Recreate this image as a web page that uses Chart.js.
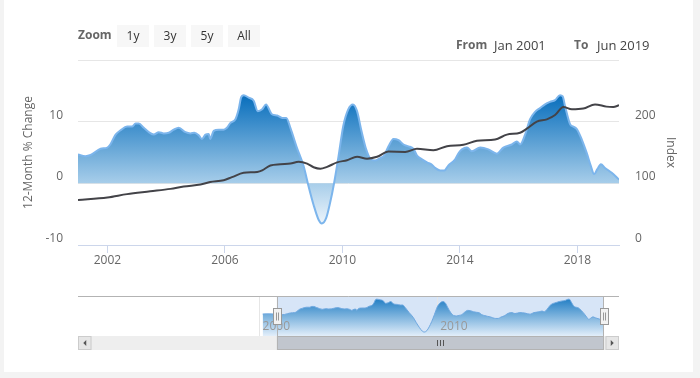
<!DOCTYPE html>
<html><head><meta charset="utf-8">
<script src="https://cdn.jsdelivr.net/npm/chart.js@4.4.1/dist/chart.umd.min.js"></script>
<style>
html,body{margin:0;padding:0;}
body{width:700px;height:378px;background:#f3f3f3;position:relative;overflow:hidden;font-family:"Open Sans",sans-serif;}
#panel{position:absolute;left:4px;top:0;width:689px;height:372px;background:#fff;}
canvas{position:absolute;left:0;}
.t{position:absolute;font-size:12px;line-height:14px;white-space:nowrap;}
.d{font-size:13px;}
.b{position:absolute;top:25px;height:22px;width:32px;background:#f7f7f7;color:#333;font-size:12px;line-height:21px;text-align:center;}
</style></head><body>
<div id="panel"></div>
<canvas id="main" width="700" height="290" style="top:0;width:700px;height:290px"></canvas>
<canvas id="nav" width="700" height="88" style="top:290px;width:700px;height:88px"></canvas>
<div class="t" style="left:78px;top:28px;font-weight:bold;color:#666">Zoom</div>
<div id="btns"></div>
<div class="t" style="left:456px;top:38px;font-weight:bold;color:#666">From</div>
<div class="t d" style="left:494px;top:37.5px;color:#444">Jan 2001</div>
<div class="t" style="left:574px;top:38px;font-weight:bold;color:#666">To</div>
<div class="t d" style="left:597px;top:37.5px;color:#444">Jun 2019</div>
<script>
// ---- data ----
const zoomButtons = ['1y','3y','5y','All'];
const tickYears = [2002, 2006, 2010, 2014, 2018];
const navTickYears = [2000, 2010];
const rangeStart = 2001;          // Jan 2001
const rangeEnd = 2019 + 5/12;     // Jun 2019

const pctDates = [2001.0,2001.25,2001.43,2001.77,2002.0,2002.1,2002.28,2002.45,2002.67,2002.84,2002.96,
  2003.07,2003.24,2003.41,2003.58,2003.75,2003.92,2004.09,2004.26,2004.43,2004.66,2004.83,2004.96,
  2005.11,2005.22,2005.34,2005.45,2005.5,2005.62,2005.79,2005.96,2006.07,2006.19,2006.36,2006.47,
  2006.55,2006.64,2006.81,2006.98,2007.12,2007.27,2007.40,2007.6,2007.78,2007.95,2008.09,2008.23,
  2008.45,2008.68,2008.85,2009.02,2009.19,2009.3,2009.45,2009.58,2009.72,2009.87,2010.03,2010.2,
  2010.36,2010.5,2010.64,2010.81,2010.95,2011.12,2011.29,2011.42,2011.57,2011.74,2011.91,2012.08,
  2012.25,2012.42,2012.54,2012.71,2012.88,2013.05,2013.16,2013.33,2013.47,2013.61,2013.84,2013.97,
  2014.07,2014.24,2014.41,2014.69,2014.97,2015.26,2015.48,2015.77,2015.94,2016.05,2016.22,2016.39,
  2016.56,2016.73,2016.9,2017.07,2017.24,2017.41,2017.5,2017.58,2017.75,2017.86,2017.98,2018.15,
  2018.32,2018.46,2018.57,2018.68,2018.8,2018.94,2019.17,2019.417];
const pctValues = [4.7,4.4,4.6,5.6,5.8,6.3,7.9,8.6,9.2,9.2,9.7,
  9.7,9.0,8.3,7.9,8.3,8.1,8.2,8.7,9.0,8.3,8.1,8.2,
  7.8,7.2,7.9,8.0,7.2,8.5,8.7,8.7,9.0,9.8,10.4,12.0,
  13.9,14.3,13.9,13.4,11.7,12.0,12.8,11.2,11.0,10.6,10.6,9.0,
  5.8,2.8,-0.5,-3.5,-5.9,-6.5,-5.6,-3.2,0.1,4.4,9.3,12.0,
  12.8,11.7,8.7,5.5,4.0,3.7,4.1,4.5,6.0,7.2,7.0,6.3,
  6.0,5.6,4.5,3.9,3.4,3.0,2.5,2.1,2.1,2.9,3.9,5.0,
  5.5,5.8,5.2,5.8,5.5,4.8,5.8,6.3,6.8,6.3,7.9,10.4,
  11.6,12.2,12.8,13.2,13.5,14.3,14.1,12.5,9.6,9.2,8.8,7.1,
  4.9,2.8,1.5,2.3,3.1,2.5,1.7,0.6];

const idxDates = [2001.0,2002.0,2002.67,2003.46,2004.15,2004.6,2005.17,2005.5,2005.96,2006.24,2006.64,
  2007.1,2007.27,2007.55,2007.89,2008.23,2008.51,2008.8,2009.02,2009.25,2009.48,2009.82,2010.16,
  2010.5,2010.84,2011.18,2011.57,2012.14,2012.54,2013.1,2013.56,2014.12,2014.58,2015.2,2015.6,
  2016.05,2016.28,2016.62,2016.96,2017.24,2017.52,2017.81,2018.2,2018.6,2018.99,2019.22,2019.417];
const idxValues = [73,77,82.5,87,91,95,98,102,105,110,117,
  118.5,121,129,131,132,135,132,126,123.5,126.7,134,137.5,
  143,140,143,151.5,151,156,153.7,160.3,162.5,169,171,179,
  182,188.6,200,203.7,210.7,223.8,220,221.2,228,224.4,223.8,226.5];

// navigator shows a little extra history before the selected range
const navPreDates = [2000.2, 2000.5, 2000.8];
const navPreValues = [4.9, 5.0, 4.9];

// ---- page bits ----
const btnLeft = [117,154,191,228];
zoomButtons.forEach((t,i)=>{
  const d = document.createElement('div'); d.className='b'; d.style.left = btnLeft[i]+'px'; d.textContent = t;
  document.getElementById('btns').appendChild(d);
});

const FAM = '"Open Sans", sans-serif';
const pts = (xs, ys) => xs.map((x,i)=>({x:x, y:ys[i]}));

function areaGradient(ctx){
  const ch = ctx.chart, a = ch.chartArea;
  if (!a) return 'rgba(124,181,236,0.6)';
  const ys = ch.scales.y;
  const top = ys.getPixelForValue(Math.max(...pctValues));
  const bot = ys.getPixelForValue(Math.min(...pctValues));
  const g = ch.ctx.createLinearGradient(0, top, 0, bot);
  g.addColorStop(0, 'rgb(8,110,188)');
  g.addColorStop(0.69, 'rgb(168,206,234)');
  g.addColorStop(1, 'rgb(236,244,251)');
  return g;
}

new Chart(document.getElementById('main'), {
  type: 'line',
  data: { datasets: [
    { label:'Index', data: pts(idxDates, idxValues), yAxisID:'y1', borderColor:'#434348', borderWidth:2,
      pointRadius:0, fill:false, cubicInterpolationMode:'monotone' },
    { label:'12-Month % Change', data: pts(pctDates, pctValues), yAxisID:'y', borderColor:'#7cb5ec', borderWidth:2,
      pointRadius:0, fill:'origin', backgroundColor: areaGradient, cubicInterpolationMode:'monotone' }
  ]},
  options: {
    responsive:false, animation:false, devicePixelRatio:1, events:[],
    layout:{ padding:{ top:60, left:0, right:0, bottom:0 } },
    plugins:{ legend:{display:false}, tooltip:{enabled:false} },
    scales: {
      x: { type:'linear', position:'bottom', min:rangeStart, max:rangeEnd,
        afterBuildTicks: s => { s.ticks = tickYears.map(v=>({value:v})); },
        afterFit: s => { s.height = 45; },
        ticks:{ color:'#666', font:{family:FAM,size:12}, padding:0, maxRotation:0, autoSkip:false, callback: v => String(v) },
        grid:{ drawOnChartArea:false, drawTicks:true, tickLength:8, color:'#ccd6eb' },
        border:{ color:'#ccd6eb', width:1 } },
      y: { position:'left', min:-10, max:20,
        afterBuildTicks: s => { s.ticks = [-10,0,10,20].map(v=>({value:v})); },
        afterFit: s => { s.width = 78; },
        ticks:{ color:'#666', font:{family:FAM,size:12}, padding:15, labelOffset:-6.5,
          callback: v => v === 20 ? '' : String(v) },
        grid:{ drawTicks:false, color: c => (c.tick && c.tick.value === -10) ? 'rgba(0,0,0,0)' : '#e6e6e6' },
        border:{ display:false },
        title:{ display:true, text:'12-Month % Change', color:'#666', font:{family:FAM,size:12}, padding:{top:21,bottom:0} } },
      y1: { position:'right', min:0, max:300,
        afterBuildTicks: s => { s.ticks = [0,100,200,300].map(v=>({value:v})); },
        afterFit: s => { s.width = 81; },
        ticks:{ color:'#666', font:{family:FAM,size:12}, padding:16, labelOffset:-6.5,
          callback: v => v === 300 ? '' : String(v) },
        grid:{ drawOnChartArea:false, drawTicks:false },
        border:{ display:false },
        title:{ display:true, text:'Index', color:'#666', font:{family:FAM,size:12}, padding:{top:22,bottom:0} } }
    }
  }
});

// ---- navigator ----
function navGradient(ctx){
  const ch = ctx.chart, a = ch.chartArea;
  if (!a) return 'rgba(124,181,236,0.6)';
  const g = ch.ctx.createLinearGradient(0, a.top, 0, a.bottom);
  g.addColorStop(0, 'rgb(20,118,192)');
  g.addColorStop(1, 'rgb(226,238,250)');
  return g;
}

const navDecor = {
  id:'navDecor',
  beforeDatasetsDraw(ch){
    const c = ch.ctx, a = ch.chartArea, xs = ch.scales.x;
    c.save();
    const m0 = xs.getPixelForValue(rangeStart), m1 = xs.getPixelForValue(rangeEnd);
    c.fillStyle = 'rgba(124,170,230,0.3)';
    c.fillRect(m0, a.top, m1-m0, a.bottom-a.top);
    c.strokeStyle = '#e6e6e6'; c.lineWidth = 1;
    navTickYears.forEach(y => {
      const px = Math.round(xs.getPixelForValue(y)) + 0.5;
      c.beginPath(); c.moveTo(px, a.top); c.lineTo(px, a.bottom); c.stroke();
    });
    c.restore();
  },
  afterDatasetsDraw(ch){
    const c = ch.ctx, a = ch.chartArea, xs = ch.scales.x;
    const m0 = xs.getPixelForValue(rangeStart), m1 = xs.getPixelForValue(rangeEnd);
    c.save();
    // labels
    c.fillStyle = '#999'; c.font = '12px ' + FAM; c.textBaseline = 'middle'; c.textAlign = 'left';
    navTickYears.forEach(y => c.fillText(String(y), xs.getPixelForValue(y) + 3.5, a.bottom - 9));
    // outline
    c.strokeStyle = '#b3b3b3'; c.lineWidth = 1;
    c.beginPath();
    c.moveTo(a.left, a.top + 0.5); c.lineTo(a.right, a.top + 0.5);
    c.moveTo(Math.round(m0)+0.5, a.top); c.lineTo(Math.round(m0)+0.5, a.bottom);
    c.moveTo(Math.round(m1)-0.5, a.top); c.lineTo(Math.round(m1)-0.5, a.bottom);
    c.stroke();
    // scrollbar
    const sy = a.bottom, sh = 14;
    c.fillStyle = '#eeeeee'; c.fillRect(a.left, sy, a.right - a.left, sh);
    c.fillStyle = '#c1c6ce'; c.fillRect(m0, sy, m1 - m0, sh);
    c.strokeStyle = '#b3b3b3';
    c.strokeRect(Math.round(m0)+0.5, sy+0.5, Math.round(m1-m0)-1, sh-1);
    // grip
    const cx = Math.round((m0 + m1) / 2);
    c.strokeStyle = '#555';
    [-3,0,3].forEach(d => { c.beginPath(); c.moveTo(cx+d+0.5, sy+4); c.lineTo(cx+d+0.5, sy+10); c.stroke(); });
    // buttons
    const bw = 13.5;
    [[a.left, -1],[a.right - bw, 1]].forEach(([bx, dir]) => {
      c.fillStyle = '#e6e6e6'; c.fillRect(bx, sy, bw, sh);
      c.strokeStyle = '#cccccc'; c.strokeRect(bx+0.5, sy+0.5, bw-1, sh-1);
      const mx = bx + bw/2, my = sy + sh/2;
      c.fillStyle = '#555';
      c.beginPath();
      if (dir > 0) { c.moveTo(mx-1.5, my-3); c.lineTo(mx+1.5, my); c.lineTo(mx-1.5, my+3); }
      else { c.moveTo(mx+1.5, my-3); c.lineTo(mx-1.5, my); c.lineTo(mx+1.5, my+3); }
      c.closePath(); c.fill();
    });
    // handles
    [m0, m1].forEach(hx => {
      const x0 = Math.round(hx) - 4 + 0.5, y0 = a.top + 12.5;
      c.fillStyle = '#f2f2f2'; c.fillRect(x0, y0, 8, 16);
      c.strokeStyle = '#999'; c.strokeRect(x0, y0, 8, 16);
      c.beginPath();
      c.moveTo(x0 + 3, y0 + 4); c.lineTo(x0 + 3, y0 + 12);
      c.moveTo(x0 + 5, y0 + 4); c.lineTo(x0 + 5, y0 + 12);
      c.stroke();
    });
    c.restore();
  }
};

new Chart(document.getElementById('nav'), {
  type:'line',
  data:{ datasets:[{ data: pts(navPreDates.concat(pctDates), navPreValues.concat(pctValues)),
    borderColor:'#6fa8e0', borderWidth:1, pointRadius:0, fill:'start', backgroundColor: navGradient,
    cubicInterpolationMode:'monotone' }]},
  options:{
    responsive:false, animation:false, devicePixelRatio:1, events:[],
    layout:{ padding:{ top:6, left:78, right:81, bottom:42 } },
    plugins:{ legend:{display:false}, tooltip:{enabled:false} },
    scales:{ x:{ type:'linear', display:false, min:1989.8, max:2020.27 },
             y:{ display:false, min:-9, max:16.3 } }
  },
  plugins:[navDecor]
});
</script>
</body></html>
